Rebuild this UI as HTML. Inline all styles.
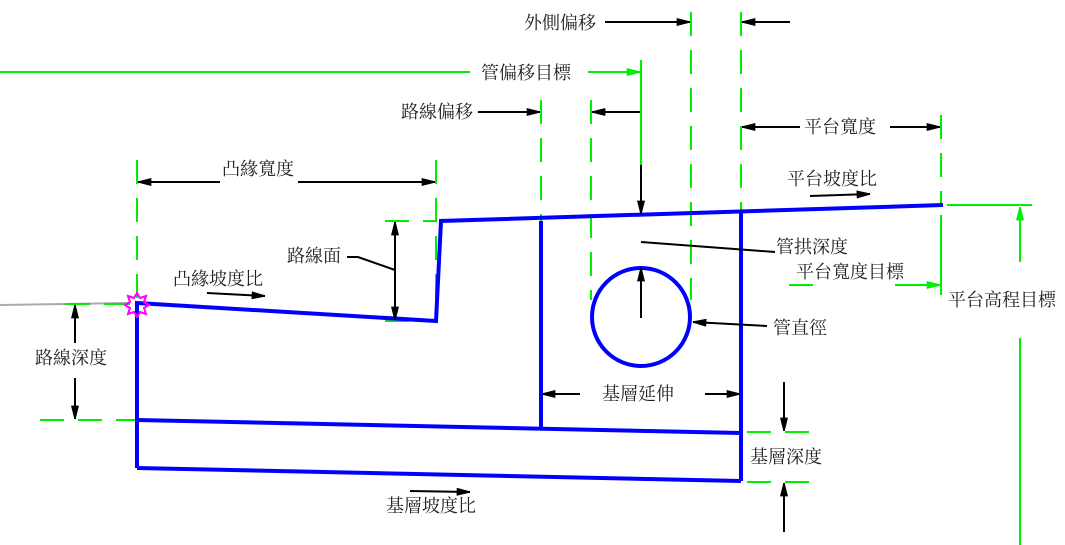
<!DOCTYPE html>
<html><head><meta charset="utf-8"><style>
html,body{margin:0;padding:0;background:#fff;}
svg{display:block;}
text{font-family:"Liberation Serif","Noto Serif CJK SC","Noto Sans CJK TC",serif;font-size:18px;fill:#222;}
</style></head><body>
<svg width="1065" height="545" viewBox="0 0 1065 545" xmlns="http://www.w3.org/2000/svg">
<defs>
<marker id="ab" viewBox="0 0 10 6" refX="10" refY="3" markerWidth="18" markerHeight="8" markerUnits="userSpaceOnUse" orient="auto"><path d="M0,0L10,2.5L10,3.5L0,6z" fill="#000"/></marker>
<marker id="ag" viewBox="0 0 10 6" refX="10" refY="3" markerWidth="18" markerHeight="8" markerUnits="userSpaceOnUse" orient="auto"><path d="M0,0L10,2.5L10,3.5L0,6z" fill="#0e0"/></marker>
</defs>
<g stroke="#0e0" stroke-width="2" fill="none">
<g stroke-dasharray="24,14">
<line x1="137" y1="160" x2="137" y2="300"/>
<line x1="436" y1="160" x2="436" y2="320"/>
<line x1="541" y1="100" x2="541" y2="420"/>
<line x1="591" y1="100" x2="591" y2="300"/>
<line x1="691" y1="12" x2="691" y2="300"/>
<line x1="741" y1="12" x2="741" y2="420"/>
<line x1="941" y1="115" x2="941" y2="205"/>
<line x1="385" y1="221" x2="436" y2="221"/>
<line x1="40" y1="420" x2="137" y2="420"/>
<line x1="385" y1="321" x2="436" y2="321"/>
<line x1="747" y1="432" x2="810" y2="432"/>
<line x1="747" y1="482" x2="810" y2="482"/>
</g>
<line x1="641" y1="60" x2="641" y2="215"/>
<line x1="941" y1="215" x2="941" y2="295"/>
<line x1="0" y1="72" x2="470" y2="72"/>
<line x1="588" y1="72" x2="640" y2="72" marker-end="url(#ag)"/>
<line x1="947" y1="205" x2="1032" y2="205"/>
<line x1="1020" y1="262" x2="1020" y2="207" marker-end="url(#ag)"/>
<line x1="1020" y1="338" x2="1020" y2="545"/>
<line x1="789" y1="285" x2="813" y2="285"/>
<line x1="895" y1="285" x2="940" y2="285" marker-end="url(#ag)"/>
</g>
<line x1="0" y1="305" x2="130" y2="303" stroke="#aaa" stroke-width="2"/>
<line x1="65" y1="304" x2="90" y2="304" stroke="#0e0" stroke-width="2"/>
<line x1="104" y1="304" x2="130" y2="304" stroke="#0e0" stroke-width="2"/>
<g stroke="#00f" stroke-width="4" fill="none">
<polyline points="137,468 137,303 436,321 441,221 943,205"/>
<line x1="541" y1="221" x2="541" y2="427"/>
<line x1="741" y1="213" x2="741" y2="481"/>
<line x1="137" y1="420" x2="741" y2="433"/>
<line x1="137" y1="468" x2="741" y2="481"/>
<circle cx="641" cy="317" r="49"/>
</g>
<polygon points="137,293 140,298 146,296 144,302 149,305 144,308 146,314 140,312 137,317 134,312 128,314 130,308 125,305 130,302 128,296 134,298" fill="none" stroke="#f0f" stroke-width="2"/>
<g stroke="#000" stroke-width="2" fill="none">
<line x1="605" y1="22" x2="690" y2="22" marker-end="url(#ab)"/>
<line x1="790" y1="22" x2="742" y2="22" marker-end="url(#ab)"/>
<line x1="478" y1="112" x2="540" y2="112" marker-end="url(#ab)"/>
<line x1="640" y1="112" x2="592" y2="112" marker-end="url(#ab)"/>
<line x1="800" y1="127" x2="742" y2="127" marker-end="url(#ab)"/>
<line x1="890" y1="127" x2="940" y2="127" marker-end="url(#ab)"/>
<line x1="220" y1="182" x2="138" y2="182" marker-end="url(#ab)"/>
<line x1="298" y1="182" x2="435" y2="182" marker-end="url(#ab)"/>
<line x1="810" y1="196" x2="870" y2="194" marker-end="url(#ab)"/>
<line x1="207" y1="293" x2="265" y2="296" marker-end="url(#ab)"/>
<line x1="395" y1="270" x2="395" y2="222" marker-end="url(#ab)"/>
<line x1="395" y1="270" x2="395" y2="320" marker-end="url(#ab)"/>
<polyline points="347,257 358,257 395,270"/>
<line x1="641" y1="165" x2="641" y2="214" marker-end="url(#ab)"/>
<line x1="641" y1="242" x2="775" y2="252"/>
<line x1="641" y1="318" x2="641" y2="268" marker-end="url(#ab)"/>
<line x1="767" y1="326" x2="693" y2="322" marker-end="url(#ab)"/>
<line x1="75" y1="343" x2="75" y2="305" marker-end="url(#ab)"/>
<line x1="75" y1="378" x2="75" y2="419" marker-end="url(#ab)"/>
<line x1="580" y1="394" x2="542" y2="394" marker-end="url(#ab)"/>
<line x1="705" y1="394" x2="740" y2="394" marker-end="url(#ab)"/>
<line x1="784" y1="382" x2="784" y2="431" marker-end="url(#ab)"/>
<line x1="784" y1="532" x2="784" y2="483" marker-end="url(#ab)"/>
<line x1="410" y1="491" x2="470" y2="492" marker-end="url(#ab)"/>
</g>
<text x="524" y="29">外側偏移</text>
<text x="481" y="79">管偏移目標</text>
<text x="401" y="118">路線偏移</text>
<text x="804" y="133">平台寬度</text>
<text x="222" y="175">凸緣寬度</text>
<text x="787" y="185">平台坡度比</text>
<text x="287" y="262">路線面</text>
<text x="173" y="285">凸緣坡度比</text>
<text x="776" y="253">管拱深度</text>
<text x="796" y="278">平台寬度目標</text>
<text x="948" y="306">平台高程目標</text>
<text x="773" y="334">管直徑</text>
<text x="35" y="364">路線深度</text>
<text x="602" y="400">基層延伸</text>
<text x="750" y="463">基層深度</text>
<text x="386" y="512">基層坡度比</text>
</svg>
</body></html>
